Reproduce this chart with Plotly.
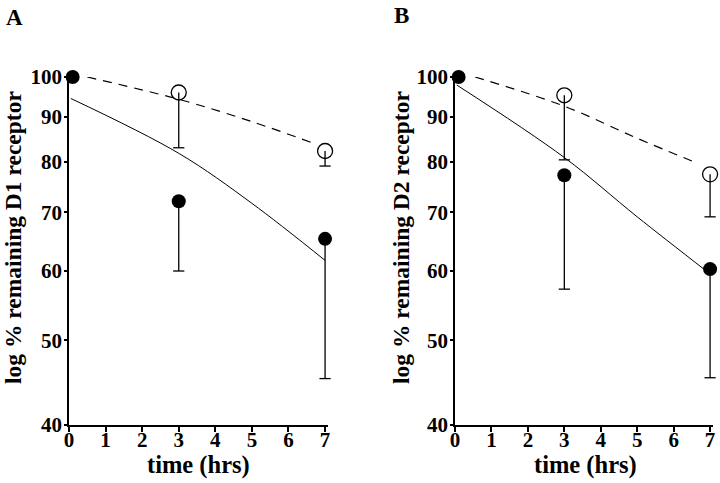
import plotly.graph_objects as go
import math

# ---- data ----
times = [0.1, 3, 7]            # filled points (time 0 drawn slightly right of axis)
open_times = [3, 7]

# Panel A (D1)
a_filled = [100, 72.1, 65.3]
a_filled_low = [100, 60.0, 45.2]
a_open = [96.0, 82.3]
a_open_low = [83.0, 79.1]
a_fit_solid_x = [0.05, 3, 5, 7]
a_fit_solid_y = [94.5, 81.8, 71.7, 61.7]
a_fit_dash_x = [0.5, 3, 5, 6.65]
a_fit_dash_y = [100.0, 94.3, 88.9, 84.1]

# Panel B (D2)
b_filled = [100, 77.2, 60.3]
b_filled_low = [100, 57.2, 45.3]
b_open = [95.3, 77.4]
b_open_low = [80.4, 69.2]
b_fit_solid_x = [0.05, 3, 5, 6.92]
b_fit_solid_y = [97.9, 80.9, 69.2, 59.9]
b_fit_dash_x = [0.55, 3, 5, 6.65]
b_fit_dash_y = [100.0, 92.6, 85.1, 79.7]

x_ticks = [0, 1, 2, 3, 4, 5, 6, 7]
y_ticks = [40, 50, 60, 70, 80, 90, 100]

x_title = "time (hrs)"
y_title_a = "log % remaining D1 receptor"
y_title_b = "log % remaining D2 receptor"

FONT = "Liberation Serif"
W, H = 720, 483

fig = go.Figure()

def add_panel(xa, ya, filled, filled_low, opn, opn_low, sx, sy, dx, dy):
    fig.add_trace(go.Scatter(x=sx, y=sy, mode="lines", line=dict(color="black", width=1, shape="spline"),
                             xaxis=xa, yaxis=ya, showlegend=False, hoverinfo="skip"))
    fig.add_trace(go.Scatter(x=dx, y=dy, mode="lines", line=dict(color="black", width=1.2, dash="9px,7px", shape="spline"),
                             xaxis=xa, yaxis=ya, showlegend=False, hoverinfo="skip"))
    fig.add_trace(go.Scatter(x=times, y=filled, mode="markers",
                             marker=dict(symbol="circle", size=14, color="black"),
                             error_y=dict(type="data", symmetric=False, array=[0]*len(filled),
                                          arrayminus=[v - l for v, l in zip(filled, filled_low)],
                                          width=0, thickness=1.3, color="black"),
                             xaxis=xa, yaxis=ya, showlegend=False, cliponaxis=False))
    fig.add_trace(go.Scatter(x=open_times, y=opn, mode="markers",
                             marker=dict(symbol="circle-open", size=15, color="black", line=dict(width=1.3)),
                             error_y=dict(type="data", symmetric=False, array=[0]*len(opn),
                                          arrayminus=[v - l for v, l in zip(opn, opn_low)],
                                          width=0, thickness=1.3, color="black"),
                             xaxis=xa, yaxis=ya, showlegend=False, cliponaxis=False))
    cap_x = [t for t, v, l in zip(times, filled, filled_low) if v != l] + open_times
    cap_y = [l for v, l in zip(filled, filled_low) if v != l] + opn_low
    fig.add_trace(go.Scatter(x=cap_x, y=cap_y, mode="markers",
                             marker=dict(symbol="line-ew", size=8, line=dict(width=1.3, color="black")),
                             xaxis=xa, yaxis=ya, showlegend=False, cliponaxis=False, hoverinfo="skip"))

add_panel("x", "y", a_filled, a_filled_low, a_open, a_open_low,
          a_fit_solid_x, a_fit_solid_y, a_fit_dash_x, a_fit_dash_y)
add_panel("x2", "y2", b_filled, b_filled_low, b_open, b_open_low,
          b_fit_solid_x, b_fit_solid_y, b_fit_dash_x, b_fit_dash_y)

tickfont = dict(family=FONT, size=21, color="black", weight="bold")

def px(x):
    return x / W

def py(y):
    return 1 - y / H

def xaxis(domain, anchor):
    return dict(domain=domain, anchor=anchor, range=[0, 7.08], tickvals=x_ticks,
                ticks="outside", ticklen=5, tickwidth=1.5, tickcolor="black",
                showline=True, linecolor="black", linewidth=1.8, showgrid=False, zeroline=False,
                automargin=False, ticklabelstandoff=-10, tickfont=tickfont)

def yaxis(anchor):
    return dict(domain=[py(425), py(77)], anchor=anchor, type="log",
                range=[math.log10(40), math.log10(100)], tickvals=y_ticks,
                ticktext=[str(v) for v in y_ticks],
                ticks="outside", ticklen=3, tickwidth=1.5, tickcolor="black",
                showline=True, linecolor="black", linewidth=1.8, showgrid=False, zeroline=False,
                automargin=False, ticklabelstandoff=-2, tickfont=tickfont)

def note(text, x, y, size, angle=0):
    return dict(text=text, x=px(x), y=py(y), xref="paper", yref="paper", xanchor="center", yanchor="middle",
                textangle=angle, showarrow=False, font=dict(family=FONT, size=size, color="black", weight="bold"))

fig.update_layout(
    template="none",
    width=W, height=H,
    margin=dict(l=0, r=0, t=0, b=0),
    paper_bgcolor="white", plot_bgcolor="white",
    xaxis=xaxis([px(69), px(328)], "y"),
    yaxis=yaxis("x"),
    xaxis2=xaxis([px(455), px(713)], "y2"),
    yaxis2=yaxis("x2"),
    annotations=[
        note("A", 14, 17, 23),
        note("B", 401, 16, 23),
        note(x_title, 198, 465, 24.5),
        note(x_title, 585, 465, 24.5),
        note(y_title_a, 13, 238, 23.5, -90),
        note(y_title_b, 401, 238, 23.5, -90),
    ],
)

fig.write_html("out.html", config={"displayModeBar": False},
               post_script="document.body.style.margin='0px';")
